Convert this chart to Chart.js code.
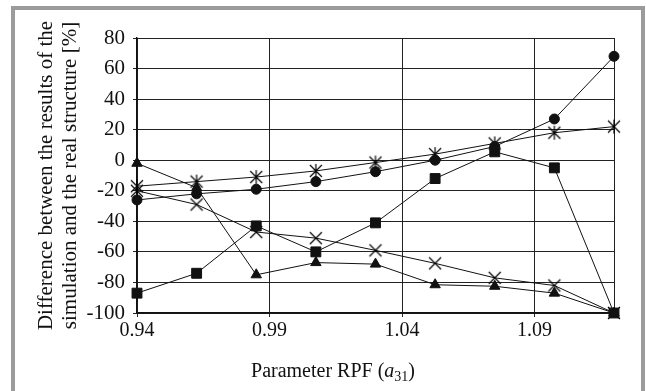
<!DOCTYPE html>
<html>
<head>
<meta charset="utf-8">
<script src="https://cdn.jsdelivr.net/npm/chart.js@4"></script>
<style>
  html, body { margin: 0; padding: 0; background: #fff; overflow: hidden; }
  #wrap { position: relative; width: 646px; height: 391px; }
  #frame { position: absolute; left: 11px; top: 6px; width: 634px; height: 400px;
           box-sizing: border-box; border: 4px solid #9b9b9b; }
  canvas { position: absolute; left: 0; top: 0; }
</style>
</head>
<body>
<div id="wrap">
  <div id="frame"></div>
  <canvas id="myChart" width="646" height="391"></canvas>
</div>
<script>
// x values (parameter RPF a31)
const xValues = [0.94, 0.9625, 0.985, 1.0075, 1.03, 1.0525, 1.075, 1.0975, 1.12];
const xTicks = [0.94, 0.99, 1.04, 1.09];
const yTicks = [-100, -80, -60, -40, -20, 0, 20, 40, 60, 80];

// series (difference in %)
const circleData   = [-26, -22, -19, -14, -7.5, 0, 9, 27, 68];
const squareData   = [-87, -74, -43, -60, -41, -12, 5.5, -5, -100];
const triangleData = [-2, -18, -75, -67, -68, -81.5, -82.5, -87, -100];
const asteriskData = [-17, -14, -11, -7, -1.5, 4, 11, 18, 22];
const crossData    = [-20, -29, -47, -51, -59, -67.5, -77, -82, -100];

const FONT = '"Liberation Serif", "Times New Roman", serif';

function markerCanvas(kind) {
    const c = document.createElement('canvas');
    c.width = 16; c.height = 16;
    const g = c.getContext('2d');
    g.strokeStyle = '#000';
    g.lineWidth = 1.2;
    const m = 8, r = 6;
    g.beginPath();
    g.moveTo(m - r, m - r); g.lineTo(m + r, m + r);
    g.moveTo(m + r, m - r); g.lineTo(m - r, m + r);
    if (kind === 'asterisk') {
        g.moveTo(m, m - r - 1); g.lineTo(m, m + r + 1);
    }
    g.stroke();
    return c;
}

function toPoints(arr) {
    return arr.map((v, i) => ({ x: xValues[i], y: v }));
}

function series(label, data, style, radius) {
    return {
        label: label,
        data: toPoints(data),
        borderColor: '#111',
        backgroundColor: '#111',
        borderWidth: 1,
        pointStyle: style,
        pointRadius: radius,
        pointBorderWidth: 1,
        pointBorderColor: '#111',
        pointBackgroundColor: '#111',
        showLine: true,
        tension: 0,
        clip: false
    };
}

// axis titles drawn by hand (subscript + two-line rotated title)
const titlesPlugin = {
    id: 'titles',
    afterDraw(chart) {
        const ctx = chart.ctx;
        const a = chart.chartArea;
        ctx.save();
        ctx.fillStyle = '#111';
        ctx.font = '21px ' + FONT;
        ctx.textBaseline = 'alphabetic';

        // y title
        const cy = (a.top + a.bottom) / 2;
        ctx.save();
        ctx.translate(52, cy);
        ctx.rotate(-Math.PI / 2);
        ctx.textAlign = 'center';
        ctx.fillText('Difference between the results of the', 0, 0);
        ctx.fillText('simulation and the real structure [%]', 0, 24);
        ctx.restore();

        // x title: Parameter RPF (a31)
        const p1 = 'Parameter RPF (';
        const p2 = 'a';
        const p3 = '31';
        const p4 = ')';
        ctx.font = '20px ' + FONT;
        const w1 = ctx.measureText(p1).width;
        const w4 = ctx.measureText(p4).width;
        ctx.font = 'italic 20px ' + FONT;
        const w2 = ctx.measureText(p2).width;
        ctx.font = '14px ' + FONT;
        const w3 = ctx.measureText(p3).width;
        let x = 333 - (w1 + w2 + w3 + w4) / 2;
        const base = 377;
        ctx.textAlign = 'left';
        ctx.font = '20px ' + FONT;
        ctx.fillText(p1, x, base); x += w1;
        ctx.font = 'italic 20px ' + FONT;
        ctx.fillText(p2, x, base); x += w2;
        ctx.font = '14px ' + FONT;
        ctx.fillText(p3, x, base + 4); x += w3;
        ctx.font = '20px ' + FONT;
        ctx.fillText(p4, x, base);
        ctx.restore();
    }
};

const ctx = document.getElementById('myChart').getContext('2d');

new Chart(ctx, {
    type: 'scatter',
    data: {
        datasets: [
            series('Circles', circleData, 'circle', 5),
            series('Squares', squareData, 'rect', 7),
            series('Triangles', triangleData, 'triangle', 6),
            series('Asterisk', asteriskData, markerCanvas('asterisk'), 7),
            series('Cross', crossData, markerCanvas('cross'), 7)
        ]
    },
    options: {
        responsive: false,
        animation: false,
        layout: {
            padding: { left: 0, right: 32, top: 38, bottom: 0 }
        },
        plugins: {
            legend: { display: false },
            tooltip: { enabled: false }
        },
        scales: {
            x: {
                type: 'linear',
                min: 0.94,
                max: 1.12,
                afterBuildTicks: function (scale) {
                    scale.ticks = xTicks.concat([1.12]).map(v => ({ value: v }));
                },
                afterFit: function (scale) { scale.height = 78; },
                ticks: {
                    color: '#111',
                    font: { family: FONT, size: 20 },
                    padding: 2,
                    maxRotation: 0,
                    autoSkip: false,
                    callback: function (v) {
                        return xTicks.some(t => Math.abs(t - v) < 1e-6) ? v.toFixed(2) : '';
                    }
                },
                grid: {
                    color: '#222',
                    lineWidth: 1,
                    tickLength: 4,
                    drawTicks: true
                },
                border: { color: '#111', width: 1.5 }
            },
            y: {
                type: 'linear',
                min: -100,
                max: 80,
                afterBuildTicks: function (scale) {
                    scale.ticks = yTicks.map(v => ({ value: v }));
                },
                afterFit: function (scale) { scale.width = 137; },
                ticks: {
                    color: '#111',
                    font: { family: FONT, size: 21 },
                    padding: 8,
                    callback: function (v) { return String(v); }
                },
                grid: {
                    color: '#222',
                    lineWidth: 1,
                    tickLength: 4
                },
                border: { color: '#111', width: 1.5 }
            }
        }
    },
    plugins: [titlesPlugin]
});
</script>
</body>
</html>
